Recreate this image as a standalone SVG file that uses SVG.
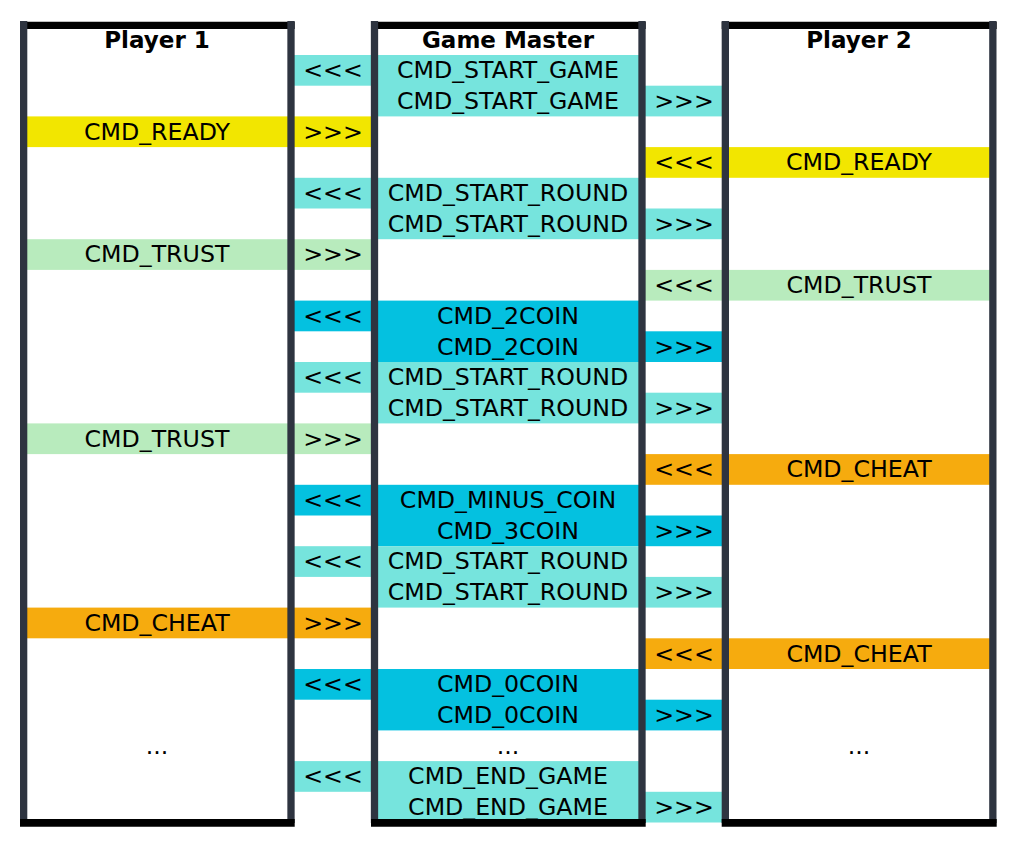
<svg xmlns="http://www.w3.org/2000/svg" width="1019" height="844" viewBox="0 0 1019 844">
<style>
text{font-family:"DejaVu Sans","Liberation Sans",sans-serif;font-size:23.7px;text-anchor:middle;fill:#000}
.t{font-weight:bold;font-size:23px}
.lc{fill:#76e4dd}
.dc{fill:#04c1e0}
.ye{fill:#f2e600}
.gr{fill:#b8ebbd}
.or{fill:#f6ab0e}
.bar{stroke:#2e3440;stroke-width:7.3}
.edge{stroke:#000}
</style>
<rect width="1019" height="844" fill="#fff"/>
<g id="edges-top" class="edge">
<line x1="20" y1="25.3" x2="294.7" y2="25.3" stroke-width="7.3"/>
<line x1="371" y1="25.3" x2="645.7" y2="25.3" stroke-width="7.3"/>
<line x1="721.7" y1="25.3" x2="996.7" y2="25.3" stroke-width="7.3"/>
</g>
<g id="player1">
<text class="t" x="157" y="47.5">Player 1</text>
<rect class="ye" x="24" y="116.4" width="267" height="30.7"/><text x="157" y="139.6">CMD_READY</text>
<rect class="gr" x="24" y="239.2" width="267" height="30.7"/><text x="157" y="262.4">CMD_TRUST</text>
<rect class="gr" x="24" y="423.4" width="267" height="30.7"/><text x="157" y="446.6">CMD_TRUST</text>
<rect class="or" x="24" y="607.6" width="267" height="30.7"/><text x="157" y="630.8">CMD_CHEAT</text>
<text x="157" y="753.6">...</text>
</g>
<g id="game-master">
<text class="t" x="508" y="47.5">Game Master</text>
<rect class="lc" x="374.5" y="55" width="267.5" height="61.4"/>
<text x="508" y="78.2">CMD_START_GAME</text><text x="508" y="108.9">CMD_START_GAME</text>
<rect class="lc" x="374.5" y="177.8" width="267.5" height="61.4"/>
<text x="508" y="201">CMD_START_ROUND</text><text x="508" y="231.7">CMD_START_ROUND</text>
<rect class="dc" x="374.5" y="300.6" width="267.5" height="61.4"/>
<text x="508" y="323.8">CMD_2COIN</text><text x="508" y="354.5">CMD_2COIN</text>
<rect class="lc" x="374.5" y="362" width="267.5" height="61.4"/>
<text x="508" y="385.2">CMD_START_ROUND</text><text x="508" y="415.9">CMD_START_ROUND</text>
<rect class="dc" x="374.5" y="484.8" width="267.5" height="61.4"/>
<text x="508" y="508">CMD_MINUS_COIN</text><text x="508" y="538.7">CMD_3COIN</text>
<rect class="lc" x="374.5" y="546.2" width="267.5" height="61.4"/>
<text x="508" y="569.4">CMD_START_ROUND</text><text x="508" y="600.1">CMD_START_ROUND</text>
<rect class="dc" x="374.5" y="669" width="267.5" height="61.4"/>
<text x="508" y="692.2">CMD_0COIN</text><text x="508" y="722.9">CMD_0COIN</text>
<text x="508" y="753.6">...</text>
<rect class="lc" x="374.5" y="761.1" width="267.5" height="61.4"/>
<text x="508" y="784.3">CMD_END_GAME</text><text x="508" y="815">CMD_END_GAME</text>
</g>
<g id="player2">
<text class="t" x="859" y="47.5">Player 2</text>
<rect class="ye" x="725" y="147.1" width="268" height="30.7"/><text x="859" y="170.3">CMD_READY</text>
<rect class="gr" x="725" y="269.9" width="268" height="30.7"/><text x="859" y="293.1">CMD_TRUST</text>
<rect class="or" x="725" y="454.1" width="268" height="30.7"/><text x="859" y="477.3">CMD_CHEAT</text>
<rect class="or" x="725" y="638.3" width="268" height="30.7"/><text x="859" y="661.5">CMD_CHEAT</text>
<text x="859" y="753.6">...</text>
</g>
<g id="connectors">
<rect class="lc" x="291" y="55" width="83.5" height="30.7"/><text x="333" y="78.2">&lt;&lt;&lt;</text>
<rect class="lc" x="642" y="85.7" width="83.5" height="30.7"/><text x="684" y="108.9">&gt;&gt;&gt;</text>
<rect class="ye" x="291" y="116.4" width="83.5" height="30.7"/><text x="333" y="139.6">&gt;&gt;&gt;</text>
<rect class="ye" x="642" y="147.1" width="83.5" height="30.7"/><text x="684" y="170.3">&lt;&lt;&lt;</text>
<rect class="lc" x="291" y="177.8" width="83.5" height="30.7"/><text x="333" y="201">&lt;&lt;&lt;</text>
<rect class="lc" x="642" y="208.5" width="83.5" height="30.7"/><text x="684" y="231.7">&gt;&gt;&gt;</text>
<rect class="gr" x="291" y="239.2" width="83.5" height="30.7"/><text x="333" y="262.4">&gt;&gt;&gt;</text>
<rect class="gr" x="642" y="269.9" width="83.5" height="30.7"/><text x="684" y="293.1">&lt;&lt;&lt;</text>
<rect class="dc" x="291" y="300.6" width="83.5" height="30.7"/><text x="333" y="323.8">&lt;&lt;&lt;</text>
<rect class="dc" x="642" y="331.3" width="83.5" height="30.7"/><text x="684" y="354.5">&gt;&gt;&gt;</text>
<rect class="lc" x="291" y="362" width="83.5" height="30.7"/><text x="333" y="385.2">&lt;&lt;&lt;</text>
<rect class="lc" x="642" y="392.7" width="83.5" height="30.7"/><text x="684" y="415.9">&gt;&gt;&gt;</text>
<rect class="gr" x="291" y="423.4" width="83.5" height="30.7"/><text x="333" y="446.6">&gt;&gt;&gt;</text>
<rect class="or" x="642" y="454.1" width="83.5" height="30.7"/><text x="684" y="477.3">&lt;&lt;&lt;</text>
<rect class="dc" x="291" y="484.8" width="83.5" height="30.7"/><text x="333" y="508">&lt;&lt;&lt;</text>
<rect class="dc" x="642" y="515.5" width="83.5" height="30.7"/><text x="684" y="538.7">&gt;&gt;&gt;</text>
<rect class="lc" x="291" y="546.2" width="83.5" height="30.7"/><text x="333" y="569.4">&lt;&lt;&lt;</text>
<rect class="lc" x="642" y="576.9" width="83.5" height="30.7"/><text x="684" y="600.1">&gt;&gt;&gt;</text>
<rect class="or" x="291" y="607.6" width="83.5" height="30.7"/><text x="333" y="630.8">&gt;&gt;&gt;</text>
<rect class="or" x="642" y="638.3" width="83.5" height="30.7"/><text x="684" y="661.5">&lt;&lt;&lt;</text>
<rect class="dc" x="291" y="669" width="83.5" height="30.7"/><text x="333" y="692.2">&lt;&lt;&lt;</text>
<rect class="dc" x="642" y="699.7" width="83.5" height="30.7"/><text x="684" y="722.9">&gt;&gt;&gt;</text>
<rect class="lc" x="291" y="761.1" width="83.5" height="30.7"/><text x="333" y="784.3">&lt;&lt;&lt;</text>
<rect class="lc" x="642" y="791.8" width="83.5" height="30.7"/><text x="684" y="815">&gt;&gt;&gt;</text>
</g>
<g id="lifelines" class="bar">
<line x1="23.65" y1="21" x2="23.65" y2="823"/>
<line x1="291" y1="21" x2="291" y2="823"/>
<line x1="374.5" y1="21" x2="374.5" y2="823"/>
<line x1="642" y1="21" x2="642" y2="823"/>
<line x1="725.35" y1="21" x2="725.35" y2="823"/>
<line x1="992.85" y1="21" x2="992.85" y2="823"/>
</g>
<g id="edges-bottom" class="edge">
<line x1="20" y1="822.8" x2="294.7" y2="822.8" stroke-width="7.7"/>
<line x1="371" y1="822.8" x2="645.7" y2="822.8" stroke-width="7.7"/>
<line x1="721.7" y1="822.8" x2="996.7" y2="822.8" stroke-width="7.7"/>
</g>
</svg>
